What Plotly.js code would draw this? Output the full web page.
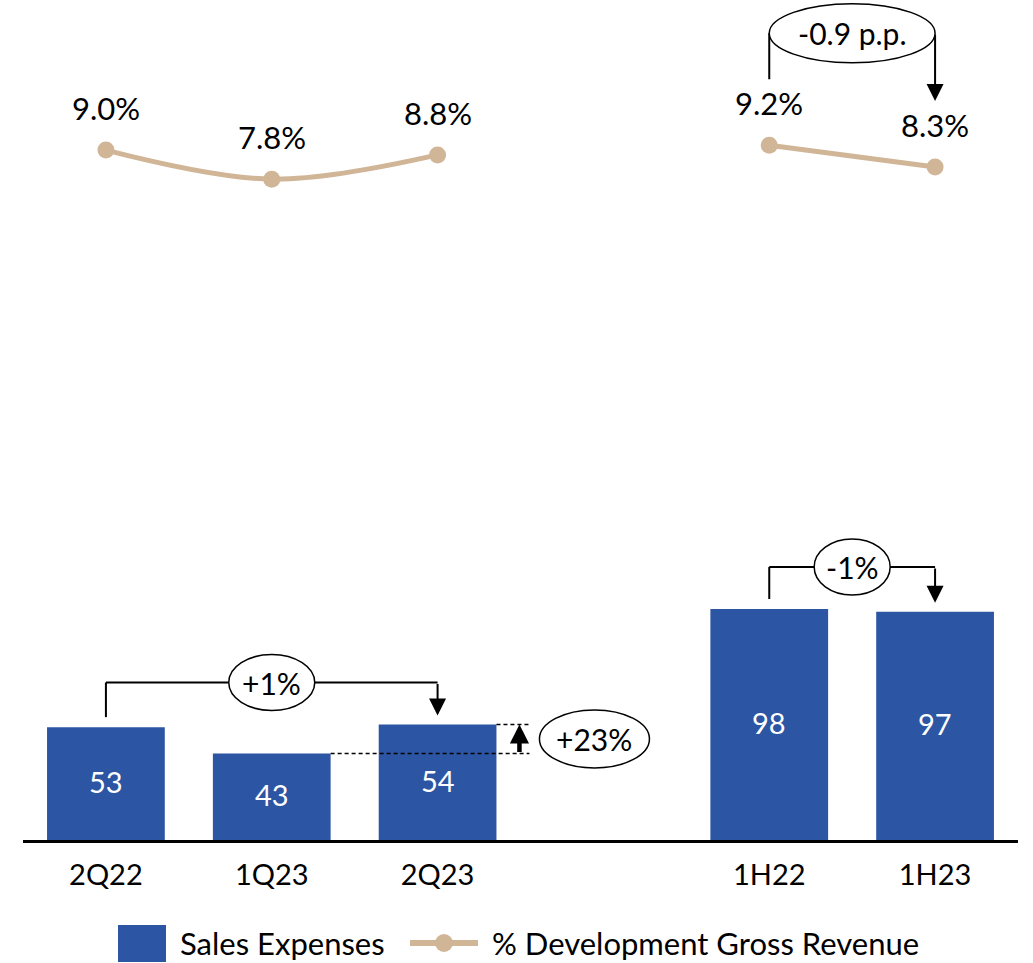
<!DOCTYPE html>
<html>
<head>
<meta charset="utf-8">
<script src="https://cdn.plot.ly/plotly-3.0.1.min.js"></script>
<style>html,body{margin:0;padding:0;background:#fff;}#chart{width:1033px;height:963px;}</style>
</head>
<body>
<div id="chart"></div>
<script>
// ---- data ----
const categories = ['2Q22', '1Q23', '2Q23', '', '1H22', '1H23'];
const salesExpenses = [53, 43, 54, null, 98, 97];
const devGrossRevenuePct = [9.0, 7.8, 8.8, null, 9.2, 8.3];
const barSeriesName = 'Sales Expenses';
const lineSeriesName = '% Development Gross Revenue';
const qoqChange = { from: 0, to: 2, label: '+1%' };
const halfChange = { from: 4, to: 5, label: '-1%' };
const seqChange = { from: 1, to: 2, label: '+23%' };
const pctChange = { from: 4, to: 5, label: '-0.9 p.p.' };

// ---- geometry ----
const W = 1033, H = 963;
const M = { l: 23, r: 15, t: 0, b: 123, autoexpand: false };
const plotW = W - M.l - M.r, plotH = H - M.t - M.b;
const xRange = [-0.5, categories.length - 0.5];
const yRange = [10, 330];
const y2Range = [-19.5, 15.2];
const xu = plotW / (xRange[1] - xRange[0]);
const yu = plotH / (yRange[1] - yRange[0]);
const y2u = plotH / (y2Range[1] - y2Range[0]);
const dx = p => p / xu, dy = p => p / yu, dy2 = p => p / y2u;
const px2paperX = p => (p - M.l) / plotW;
const px2paperY = p => (M.t + plotH - p) / plotH;

const FONT = 'Lato, "Open Sans", "Noto Sans", sans-serif';
const BAR = '#2C55A3';
const LINE = '#D0B597';
const BW = 0.71;

const xIdx = categories.map((_, i) => i);
const tickIdx = xIdx.filter(i => categories[i] !== '');

const shapes = [];
const annotations = [];

// value labels above the line points
xIdx.forEach(i => {
  const v = devGrossRevenuePct[i];
  if (v == null) return;
  annotations.push({
    x: i, y: v, xref: 'x', yref: 'y2', text: v.toFixed(1) + '%',
    showarrow: false, yshift: 42, font: { family: FONT, size: 31, color: '#000' }
  });
});

// value labels centred in the visible part of each bar
xIdx.forEach(i => {
  const v = salesExpenses[i];
  if (v == null) return;
  annotations.push({
    x: i, y: (yRange[0] + v) / 2, xref: 'x', yref: 'y', text: String(v),
    showarrow: false, yshift: 2, font: { family: FONT, size: 29, color: '#fff' }
  });
});

function ellipse(cx, cy, rxPx, ryPx, yref, label, du) {
  shapes.push({
    type: 'circle', xref: 'x', yref: yref,
    x0: cx - dx(rxPx), x1: cx + dx(rxPx), y0: cy - du(ryPx), y1: cy + du(ryPx),
    fillcolor: '#fff', line: { color: '#000', width: 1.5 }, layer: 'above'
  });
  annotations.push({
    x: cx, y: cy, xref: 'x', yref: yref, text: label, showarrow: false,
    font: { family: FONT, size: 30, color: '#000' }
  });
}

function downArrow(x, yTop, yTip, yref) {
  annotations.push({
    x: x, y: yTip, ax: x, ay: yTop, xref: 'x', yref: yref, axref: 'x', ayref: yref,
    text: '', showarrow: true, arrowhead: 2, arrowsize: 1.7, arrowwidth: 2,
    arrowcolor: '#000', standoff: 0
  });
}

function barBracket(ch, rxPx) {
  const v0 = salesExpenses[ch.from], v1 = salesExpenses[ch.to];
  const yStart = v0 + dy(10);
  const yTip = v1 + dy(9);
  const yTop = Math.max(v0, v1) + dy(42);
  shapes.push({ type: 'line', xref: 'x', yref: 'y', x0: ch.from, x1: ch.from, y0: yStart, y1: yTop, line: { color: '#000', width: 2 } });
  shapes.push({ type: 'line', xref: 'x', yref: 'y', x0: ch.from, x1: ch.to, y0: yTop, y1: yTop, line: { color: '#000', width: 2 } });
  downArrow(ch.to, yTop, yTip, 'y');
  ellipse((ch.from + ch.to) / 2, yTop, rxPx, 28, 'y', ch.label, dy);
}
barBracket(qoqChange, 43);
barBracket(halfChange, 38);

// -0.9 p.p. bracket on the percentage axis
(function () {
  const v0 = devGrossRevenuePct[pctChange.from], v1 = devGrossRevenuePct[pctChange.to];
  const yStart = v0 + dy2(66);
  const yTip = v1 + dy2(66);
  const yTop = v0 + dy2(112);
  shapes.push({ type: 'line', xref: 'x', yref: 'y2', x0: pctChange.from, x1: pctChange.from, y0: yStart, y1: yTop, line: { color: '#000', width: 2 } });
  downArrow(pctChange.to, yTop, yTip, 'y2');
  const rx = (pctChange.to - pctChange.from) / 2 * xu;
  ellipse((pctChange.from + pctChange.to) / 2, yTop, rx, 29.5, 'y2', pctChange.label, dy2);
})();

// +23% sequential change marker
(function () {
  const vLow = salesExpenses[seqChange.from], vHigh = salesExpenses[seqChange.to];
  const xEnd = seqChange.to + BW / 2 + dx(33);
  const dash = { color: '#000', width: 1.5, dash: '4px,3px' };
  shapes.push({ type: 'line', xref: 'x', yref: 'y', x0: seqChange.from + BW / 2, x1: xEnd, y0: vLow, y1: vLow, line: dash, layer: 'above' });
  shapes.push({ type: 'line', xref: 'x', yref: 'y', x0: seqChange.to + BW / 2, x1: xEnd, y0: vHigh, y1: vHigh, line: dash, layer: 'above' });
  const ax = seqChange.to + BW / 2 + dx(23);
  annotations.push({
    x: ax, y: vHigh, ax: ax, ay: vLow, xref: 'x', yref: 'y', axref: 'x', ayref: 'y',
    text: '', showarrow: true, arrowhead: 2, arrowsize: 0.85, arrowwidth: 4.5,
    arrowcolor: '#000', standoff: 0
  });
  ellipse(seqChange.to + BW / 2 + dx(98), (vLow + vHigh) / 2, 55, 29, 'y', seqChange.label, dy);
})();

// legend (drawn to match the large swatch of the original)
(function () {
  const yC = 943;
  shapes.push({ type: 'rect', xref: 'paper', yref: 'paper',
    x0: px2paperX(118), x1: px2paperX(166), y0: px2paperY(962), y1: px2paperY(925),
    fillcolor: BAR, line: { width: 0 } });
  annotations.push({ x: px2paperX(178), y: px2paperY(yC), xref: 'paper', yref: 'paper',
    xanchor: 'left', yanchor: 'middle', text: barSeriesName, showarrow: false,
    font: { family: FONT, size: 31, color: '#000' } });
  shapes.push({ type: 'line', xref: 'paper', yref: 'paper',
    x0: px2paperX(410), x1: px2paperX(478), y0: px2paperY(yC), y1: px2paperY(yC),
    line: { color: LINE, width: 6 } });
  shapes.push({ type: 'circle', xref: 'paper', yref: 'paper',
    x0: px2paperX(435), x1: px2paperX(453), y0: px2paperY(yC + 9), y1: px2paperY(yC - 9),
    fillcolor: LINE, line: { width: 0 } });
  annotations.push({ x: px2paperX(490), y: px2paperY(yC), xref: 'paper', yref: 'paper',
    xanchor: 'left', yanchor: 'middle', text: lineSeriesName, showarrow: false,
    font: { family: FONT, size: 31, color: '#000' } });
})();

const traces = [
  {
    type: 'bar', name: barSeriesName, x: xIdx, y: salesExpenses, width: BW,
    marker: { color: BAR }, textposition: 'none', hoverinfo: 'x+y'
  },
  {
    type: 'scatter', mode: 'lines+markers', name: lineSeriesName, x: xIdx, y: devGrossRevenuePct,
    yaxis: 'y2', connectgaps: false,
    line: { color: LINE, width: 5, shape: 'spline', smoothing: 1 },
    marker: { color: LINE, size: 17 }, cliponaxis: false
  }
];

const layout = {
  width: W, height: H,
  margin: M,
  paper_bgcolor: '#fff', plot_bgcolor: '#fff',
  font: { family: FONT, color: '#000' },
  showlegend: false,
  xaxis: {
    range: xRange, tickmode: 'array', tickvals: tickIdx, ticktext: tickIdx.map(i => categories[i]),
    showgrid: false, zeroline: false, showline: true, linecolor: '#000', linewidth: 2.5,
    ticks: '', ticklabelstandoff: 8, tickfont: { family: FONT, size: 29, color: '#000' }, fixedrange: true
  },
  yaxis: { range: yRange, visible: false, showgrid: false, zeroline: false, fixedrange: true },
  yaxis2: { range: y2Range, overlaying: 'y', visible: false, showgrid: false, zeroline: false, fixedrange: true },
  shapes: shapes,
  annotations: annotations
};

Plotly.newPlot('chart', traces, layout, { displayModeBar: false, staticPlot: true });
</script>
</body>
</html>
